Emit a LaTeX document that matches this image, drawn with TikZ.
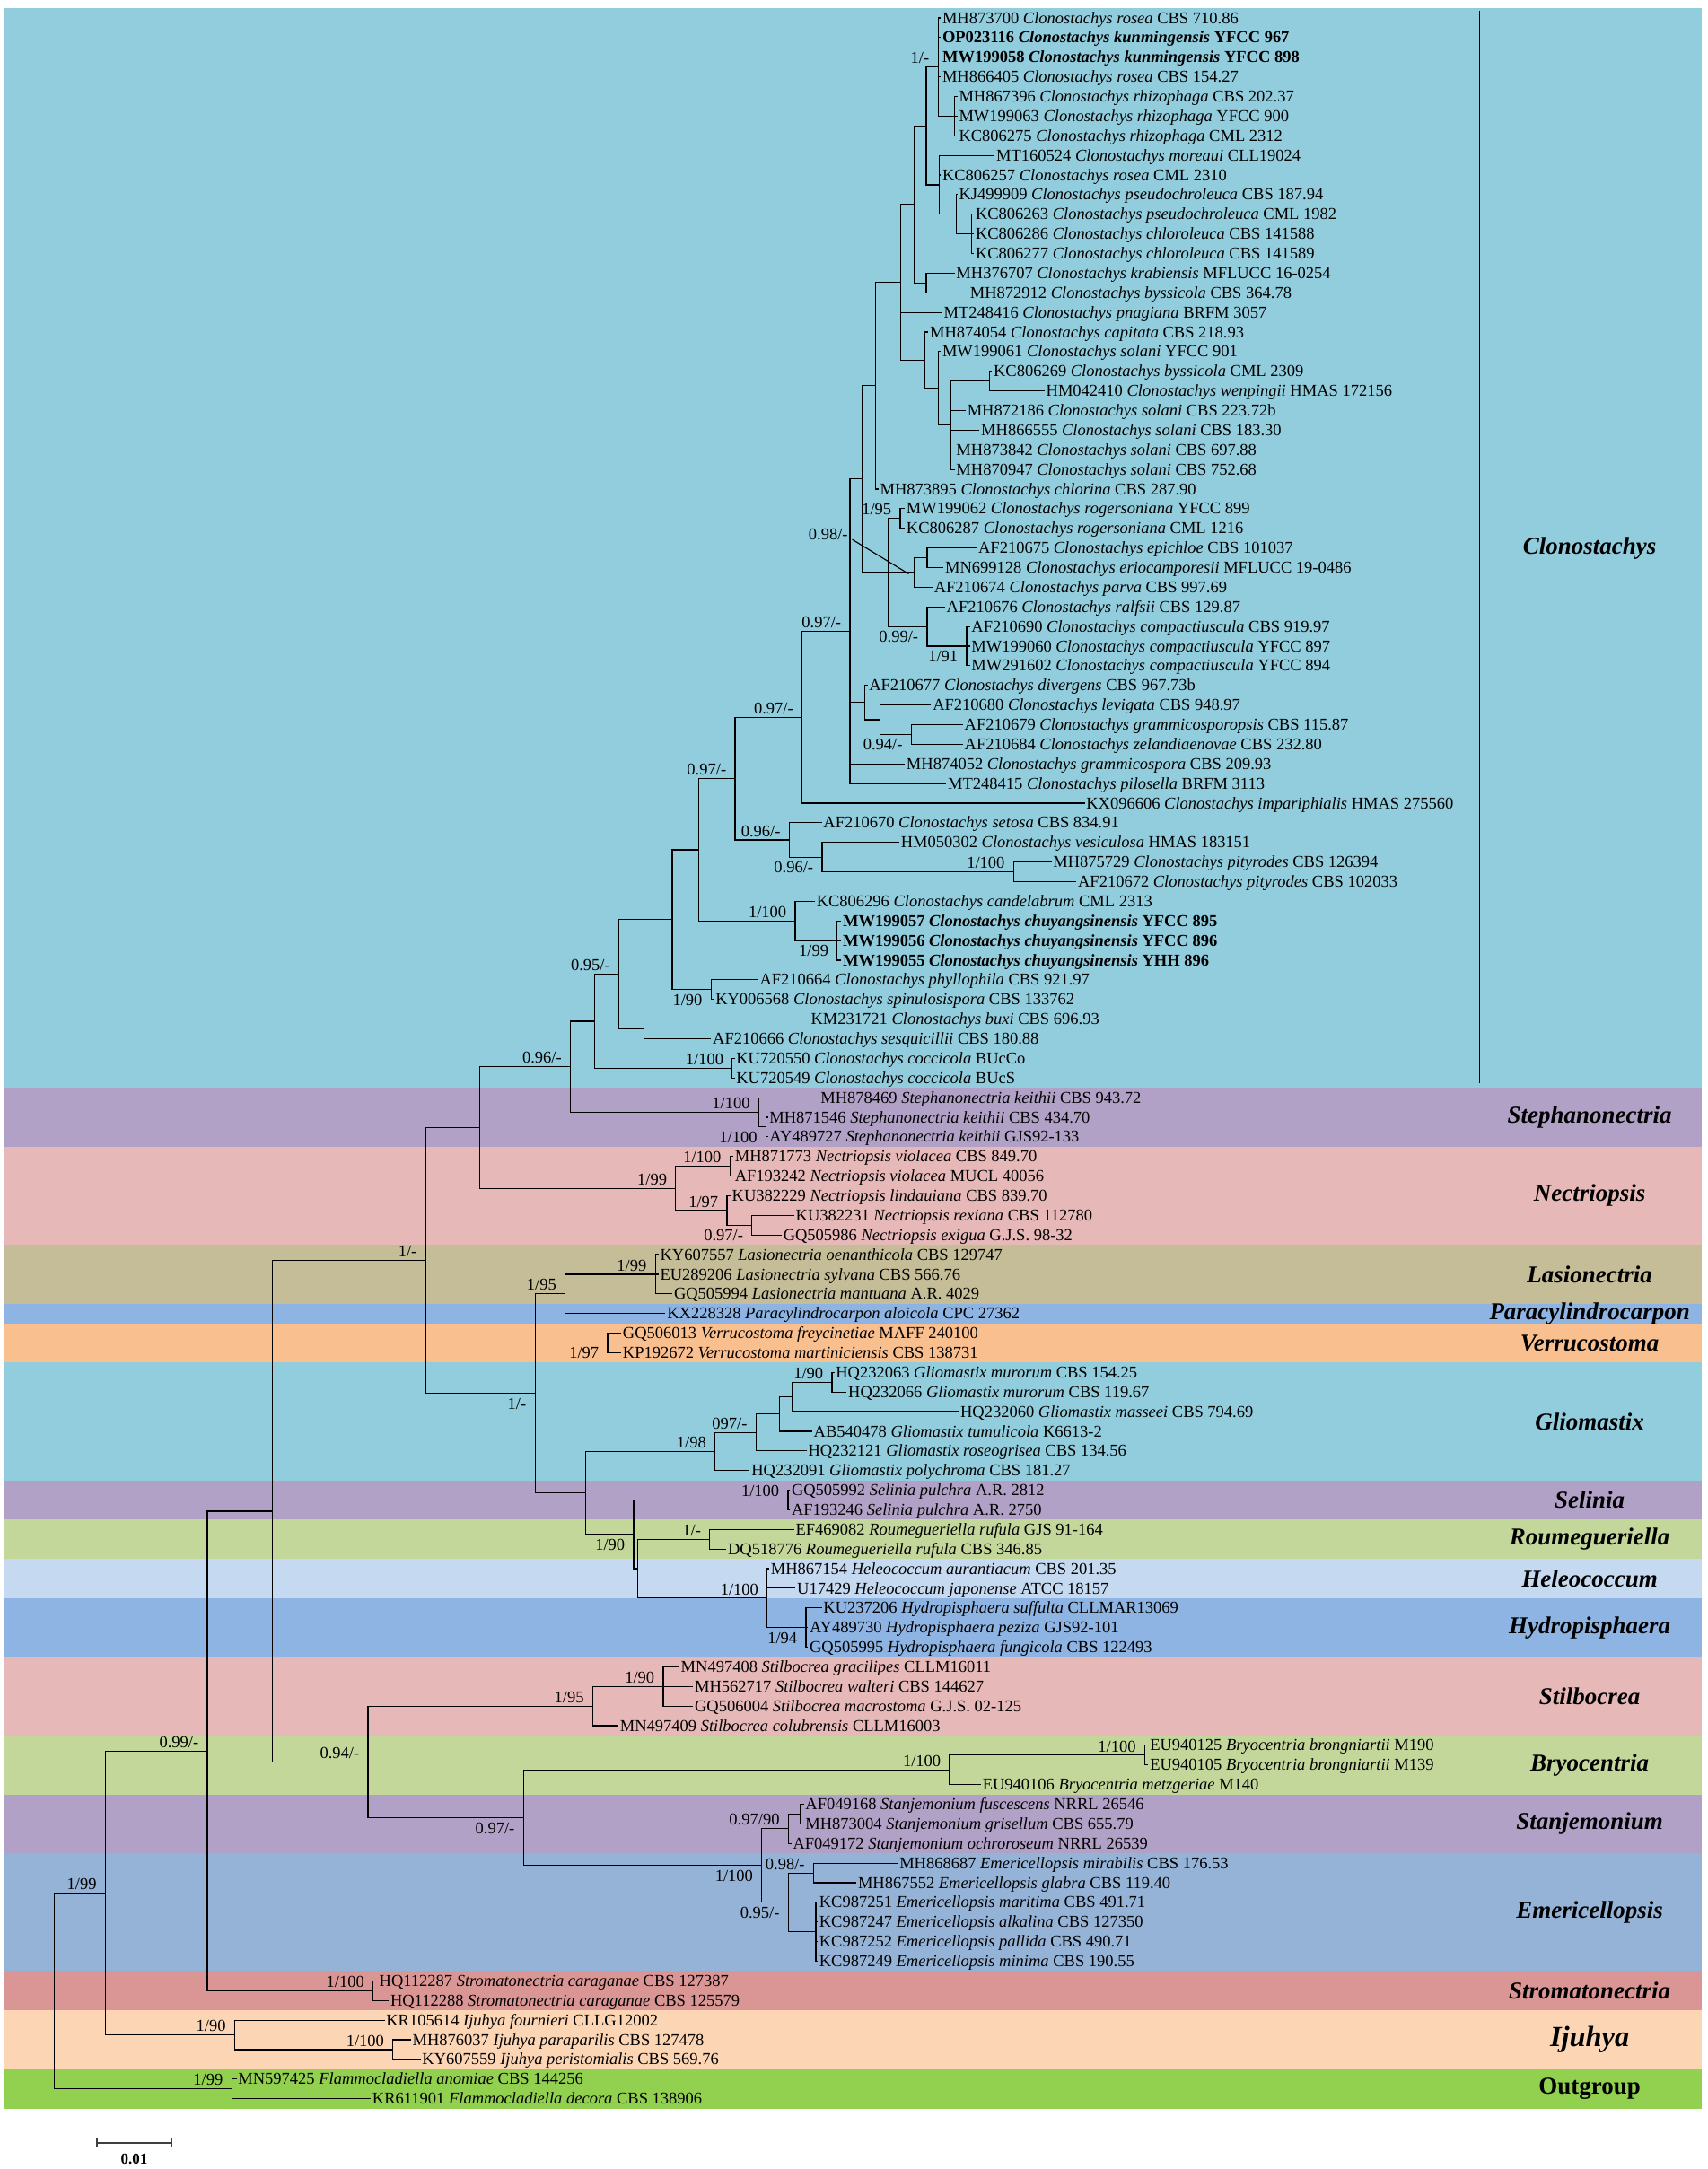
\documentclass[tikz,border=0pt]{standalone}
\usepackage{fontspec}
\setmainfont{Liberation Serif}
\usepackage{tikz}

\definecolor{clono}{RGB}{146,205,221}
\definecolor{steph}{RGB}{177,161,199}
\definecolor{nectr}{RGB}{230,184,183}
\definecolor{lasio}{RGB}{196,189,151}
\definecolor{paracyl}{RGB}{141,180,226}
\definecolor{verru}{RGB}{250,191,143}
\definecolor{roum}{RGB}{196,215,155}
\definecolor{heleo}{RGB}{197,217,241}
\definecolor{emeric}{RGB}{149,179,215}
\definecolor{stroma}{RGB}{218,150,148}
\definecolor{ijuhya}{RGB}{252,213,180}
\definecolor{outgr}{RGB}{146,208,80}

\newcommand{\taxfont}{\fontsize{12}{14}\selectfont}
\newcommand{\cladefont}{\fontsize{17.5}{20}\selectfont\bfseries\itshape}
\pgfmathdeclarefunction{rowy}{1}{\pgfmathparse{13+14.19*(#1-1)}}

\begin{document}
\begin{tikzpicture}[x=1pt,y=-1pt,
                    every edge/.style={draw,line width=0.75pt,to path={|- (\tikztotarget) \tikztonodes}}]
   \tikzstyle{leaf}=[anchor=west,inner sep=1pt,font=\taxfont,text height=10.4pt,text depth=2.5pt]
   \tikzstyle{sa}=[pos=1,anchor=south east,inner sep=1pt,xshift=-5pt,yshift=1pt,font=\taxfont]
   \tikzstyle{sb}=[pos=1,anchor=north east,inner sep=1pt,xshift=-5pt,yshift=-2pt,font=\taxfont]
   \tikzstyle{clade}=[font=\cladefont]

   \fill[white] (0,0) rectangle (1234,1568);
   \useasboundingbox (0,0) rectangle (1234,1568);

   % coloured bands with the genus names
   \foreach \a/\b/\c/\n in {1/55/clono/Clonostachys, 56/58/steph/Stephanonectria,
       59/63/nectr/Nectriopsis, 64/66/lasio/Lasionectria, 67/67/paracyl/Paracylindrocarpon,
       68/69/verru/Verrucostoma, 70/75/clono/Gliomastix, 76/77/steph/Selinia,
       78/79/roum/Roumegueriella, 80/81/heleo/Heleococcum, 82/84/paracyl/Hydropisphaera,
       85/88/nectr/Stilbocrea, 89/91/roum/Bryocentria, 92/94/steph/Stanjemonium,
       95/100/emeric/Emericellopsis, 101/102/stroma/Stromatonectria,
       103/105/ijuhya/{\fontsize{21}{24}\selectfont Ijuhya}, 106/107/outgr/{\upshape Outgroup}}
   {
     \fill[\c] (3.5,{rowy(\a-0.5)}) rectangle (1230,{rowy(\b+0.5)});
     \node[clade] (c\a) at (1149,{rowy((\a+\b)/2)}) {\n};
   }
   \coordinate (v0) at (1069.5,8);
   \coordinate (v1) at (1069.5,783);
   \draw[line width=0.8pt] (v0) -- (v1);

   % taxa
   \node[leaf] (t1) at (680,{rowy(1)}) {MH873700 \textit{Clonostachys rosea} CBS 710.86};
   \node[leaf] (t2) at (680,{rowy(2)}) {\bfseries OP023116 \textit{Clonostachys kunmingensis} YFCC 967};
   \node[leaf] (t3) at (680,{rowy(3)}) {\bfseries MW199058 \textit{Clonostachys kunmingensis} YFCC 898};
   \node[leaf] (t4) at (680,{rowy(4)}) {MH866405 \textit{Clonostachys rosea} CBS 154.27};
   \node[leaf] (t5) at (692,{rowy(5)}) {MH867396 \textit{Clonostachys rhizophaga} CBS 202.37};
   \node[leaf] (t6) at (692,{rowy(6)}) {MW199063 \textit{Clonostachys rhizophaga} YFCC 900};
   \node[leaf] (t7) at (692,{rowy(7)}) {KC806275 \textit{Clonostachys rhizophaga} CML 2312};
   \node[leaf] (t8) at (719,{rowy(8)}) {MT160524 \textit{Clonostachys moreaui} CLL19024};
   \node[leaf] (t9) at (680,{rowy(9)}) {KC806257 \textit{Clonostachys rosea} CML 2310};
   \node[leaf] (t10) at (692,{rowy(10)}) {KJ499909 \textit{Clonostachys pseudochroleuca} CBS 187.94};
   \node[leaf] (t11) at (704,{rowy(11)}) {KC806263 \textit{Clonostachys pseudochroleuca} CML 1982};
   \node[leaf] (t12) at (704,{rowy(12)}) {KC806286 \textit{Clonostachys chloroleuca} CBS 141588};
   \node[leaf] (t13) at (704,{rowy(13)}) {KC806277 \textit{Clonostachys chloroleuca} CBS 141589};
   \node[leaf] (t14) at (690,{rowy(14)}) {MH376707 \textit{Clonostachys krabiensis} MFLUCC 16-0254};
   \node[leaf] (t15) at (700,{rowy(15)}) {MH872912 \textit{Clonostachys byssicola} CBS 364.78};
   \node[leaf] (t16) at (681,{rowy(16)}) {MT248416 \textit{Clonostachys pnagiana} BRFM 3057};
   \node[leaf] (t17) at (671,{rowy(17)}) {MH874054 \textit{Clonostachys capitata} CBS 218.93};
   \node[leaf] (t18) at (680,{rowy(18)}) {MW199061 \textit{Clonostachys solani} YFCC 901};
   \node[leaf] (t19) at (717,{rowy(19)}) {KC806269 \textit{Clonostachys byssicola} CML 2309};
   \node[leaf] (t20) at (755,{rowy(20)}) {HM042410 \textit{Clonostachys wenpingii} HMAS 172156};
   \node[leaf] (t21) at (698,{rowy(21)}) {MH872186 \textit{Clonostachys solani} CBS 223.72b};
   \node[leaf] (t22) at (708,{rowy(22)}) {MH866555 \textit{Clonostachys solani} CBS 183.30};
   \node[leaf] (t23) at (690,{rowy(23)}) {MH873842 \textit{Clonostachys solani} CBS 697.88};
   \node[leaf] (t24) at (690,{rowy(24)}) {MH870947 \textit{Clonostachys solani} CBS 752.68};
   \node[leaf] (t25) at (635,{rowy(25)}) {MH873895 \textit{Clonostachys chlorina} CBS 287.90};
   \node[leaf] (t26) at (654,{rowy(26)}) {MW199062 \textit{Clonostachys rogersoniana} YFCC 899};
   \node[leaf] (t27) at (654,{rowy(27)}) {KC806287 \textit{Clonostachys rogersoniana} CML 1216};
   \node[leaf] (t28) at (706,{rowy(28)}) {AF210675 \textit{Clonostachys epichloe} CBS 101037};
   \node[leaf] (t29) at (682,{rowy(29)}) {MN699128 \textit{Clonostachys eriocamporesii} MFLUCC 19-0486};
   \node[leaf] (t30) at (674,{rowy(30)}) {AF210674 \textit{Clonostachys parva} CBS 997.69};
   \node[leaf] (t31) at (683,{rowy(31)}) {AF210676 \textit{Clonostachys ralfsii} CBS 129.87};
   \node[leaf] (t32) at (701,{rowy(32)}) {AF210690 \textit{Clonostachys compactiuscula} CBS 919.97};
   \node[leaf] (t33) at (701,{rowy(33)}) {MW199060 \textit{Clonostachys compactiuscula} YFCC 897};
   \node[leaf] (t34) at (701,{rowy(34)}) {MW291602 \textit{Clonostachys compactiuscula} YFCC 894};
   \node[leaf] (t35) at (627,{rowy(35)}) {AF210677 \textit{Clonostachys divergens} CBS 967.73b};
   \node[leaf] (t36) at (673,{rowy(36)}) {AF210680 \textit{Clonostachys levigata} CBS 948.97};
   \node[leaf] (t37) at (696,{rowy(37)}) {AF210679 \textit{Clonostachys grammicosporopsis} CBS 115.87};
   \node[leaf] (t38) at (696,{rowy(38)}) {AF210684 \textit{Clonostachys zelandiaenovae} CBS 232.80};
   \node[leaf] (t39) at (654,{rowy(39)}) {MH874052 \textit{Clonostachys grammicospora} CBS 209.93};
   \node[leaf] (t40) at (684,{rowy(40)}) {MT248415 \textit{Clonostachys pilosella} BRFM 3113};
   \node[leaf] (t41) at (784,{rowy(41)}) {KX096606 \textit{Clonostachys impariphialis} HMAS 275560};
   \node[leaf] (t42) at (594,{rowy(42)}) {AF210670 \textit{Clonostachys setosa} CBS 834.91};
   \node[leaf] (t43) at (650,{rowy(43)}) {HM050302 \textit{Clonostachys vesiculosa} HMAS 183151};
   \node[leaf] (t44) at (760,{rowy(44)}) {MH875729 \textit{Clonostachys pityrodes} CBS 126394};
   \node[leaf] (t45) at (778,{rowy(45)}) {AF210672 \textit{Clonostachys pityrodes} CBS 102033};
   \node[leaf] (t46) at (589,{rowy(46)}) {KC806296 \textit{Clonostachys candelabrum} CML 2313};
   \node[leaf] (t47) at (608,{rowy(47)}) {\bfseries MW199057 \textit{Clonostachys chuyangsinensis} YFCC 895};
   \node[leaf] (t48) at (608,{rowy(48)}) {\bfseries MW199056 \textit{Clonostachys chuyangsinensis} YFCC 896};
   \node[leaf] (t49) at (608,{rowy(49)}) {\bfseries MW199055 \textit{Clonostachys chuyangsinensis} YHH 896};
   \node[leaf] (t50) at (548,{rowy(50)}) {AF210664 \textit{Clonostachys phyllophila} CBS 921.97};
   \node[leaf] (t51) at (516,{rowy(51)}) {KY006568 \textit{Clonostachys spinulosispora} CBS 133762};
   \node[leaf] (t52) at (585,{rowy(52)}) {KM231721 \textit{Clonostachys buxi} CBS 696.93};
   \node[leaf] (t53) at (514,{rowy(53)}) {AF210666 \textit{Clonostachys sesquicillii} CBS 180.88};
   \node[leaf] (t54) at (531,{rowy(54)}) {KU720550 \textit{Clonostachys coccicola} BUcCo};
   \node[leaf] (t55) at (531,{rowy(55)}) {KU720549 \textit{Clonostachys coccicola} BUcS};
   \node[leaf] (t56) at (592,{rowy(56)}) {MH878469 \textit{Stephanonectria keithii} CBS 943.72};
   \node[leaf] (t57) at (555,{rowy(57)}) {MH871546 \textit{Stephanonectria keithii} CBS 434.70};
   \node[leaf] (t58) at (555,{rowy(58)}) {AY489727 \textit{Stephanonectria keithii} GJS92-133};
   \node[leaf] (t59) at (530,{rowy(59)}) {MH871773 \textit{Nectriopsis violacea} CBS 849.70};
   \node[leaf] (t60) at (530,{rowy(60)}) {AF193242 \textit{Nectriopsis violacea} MUCL 40056};
   \node[leaf] (t61) at (528,{rowy(61)}) {KU382229 \textit{Nectriopsis lindauiana} CBS 839.70};
   \node[leaf] (t62) at (574,{rowy(62)}) {KU382231 \textit{Nectriopsis rexiana} CBS 112780};
   \node[leaf] (t63) at (565,{rowy(63)}) {GQ505986 \textit{Nectriopsis exigua} G.J.S. 98-32};
   \node[leaf] (t64) at (476,{rowy(64)}) {KY607557 \textit{Lasionectria oenanthicola} CBS 129747};
   \node[leaf] (t65) at (476,{rowy(65)}) {EU289206 \textit{Lasionectria sylvana} CBS 566.76};
   \node[leaf] (t66) at (486,{rowy(66)}) {GQ505994 \textit{Lasionectria mantuana} A.R. 4029};
   \node[leaf] (t67) at (481,{rowy(67)}) {KX228328 \textit{Paracylindrocarpon aloicola} CPC 27362};
   \node[leaf] (t68) at (449,{rowy(68)}) {GQ506013 \textit{Verrucostoma freycinetiae} MAFF 240100};
   \node[leaf] (t69) at (449,{rowy(69)}) {KP192672 \textit{Verrucostoma martiniciensis} CBS 138731};
   \node[leaf] (t70) at (603,{rowy(70)}) {HQ232063 \textit{Gliomastix murorum} CBS 154.25};
   \node[leaf] (t71) at (612,{rowy(71)}) {HQ232066 \textit{Gliomastix murorum} CBS 119.67};
   \node[leaf] (t72) at (693,{rowy(72)}) {HQ232060 \textit{Gliomastix masseei} CBS 794.69};
   \node[leaf] (t73) at (587,{rowy(73)}) {AB540478 \textit{Gliomastix tumulicola} K6613-2};
   \node[leaf] (t74) at (583,{rowy(74)}) {HQ232121 \textit{Gliomastix roseogrisea} CBS 134.56};
   \node[leaf] (t75) at (542,{rowy(75)}) {HQ232091 \textit{Gliomastix polychroma} CBS 181.27};
   \node[leaf] (t76) at (571,{rowy(76)}) {GQ505992 \textit{Selinia pulchra} A.R. 2812};
   \node[leaf] (t77) at (571,{rowy(77)}) {AF193246 \textit{Selinia pulchra} A.R. 2750};
   \node[leaf] (t78) at (574,{rowy(78)}) {EF469082 \textit{Roumegueriella rufula} GJS 91-164};
   \node[leaf] (t79) at (525,{rowy(79)}) {DQ518776 \textit{Roumegueriella rufula} CBS 346.85};
   \node[leaf] (t80) at (556,{rowy(80)}) {MH867154 \textit{Heleococcum aurantiacum} CBS 201.35};
   \node[leaf] (t81) at (575,{rowy(81)}) {U17429 \textit{Heleococcum japonense} ATCC 18157};
   \node[leaf] (t82) at (594,{rowy(82)}) {KU237206 \textit{Hydropisphaera suffulta} CLLMAR13069};
   \node[leaf] (t83) at (584,{rowy(83)}) {AY489730 \textit{Hydropisphaera peziza} GJS92-101};
   \node[leaf] (t84) at (584,{rowy(84)}) {GQ505995 \textit{Hydropisphaera fungicola} CBS 122493};
   \node[leaf] (t85) at (491,{rowy(85)}) {MN497408 \textit{Stilbocrea gracilipes} CLLM16011};
   \node[leaf] (t86) at (501,{rowy(86)}) {MH562717 \textit{Stilbocrea walteri} CBS 144627};
   \node[leaf] (t87) at (501,{rowy(87)}) {GQ506004 \textit{Stilbocrea macrostoma} G.J.S. 02-125};
   \node[leaf] (t88) at (447,{rowy(88)}) {MN497409 \textit{Stilbocrea colubrensis} CLLM16003};
   \node[leaf] (t89) at (830,{rowy(89)}) {EU940125 \textit{Bryocentria brongniartii} M190};
   \node[leaf] (t90) at (830,{rowy(90)}) {EU940105 \textit{Bryocentria brongniartii} M139};
   \node[leaf] (t91) at (709,{rowy(91)}) {EU940106 \textit{Bryocentria metzgeriae} M140};
   \node[leaf] (t92) at (581,{rowy(92)}) {AF049168 \textit{Stanjemonium fuscescens} NRRL 26546};
   \node[leaf] (t93) at (581,{rowy(93)}) {MH873004 \textit{Stanjemonium grisellum} CBS 655.79};
   \node[leaf] (t94) at (572,{rowy(94)}) {AF049172 \textit{Stanjemonium ochroroseum} NRRL 26539};
   \node[leaf] (t95) at (649,{rowy(95)}) {MH868687 \textit{Emericellopsis mirabilis} CBS 176.53};
   \node[leaf] (t96) at (619,{rowy(96)}) {MH867552 \textit{Emericellopsis glabra} CBS 119.40};
   \node[leaf] (t97) at (591,{rowy(97)}) {KC987251 \textit{Emericellopsis maritima} CBS 491.71};
   \node[leaf] (t98) at (591,{rowy(98)}) {KC987247 \textit{Emericellopsis alkalina} CBS 127350};
   \node[leaf] (t99) at (591,{rowy(99)}) {KC987252 \textit{Emericellopsis pallida} CBS 490.71};
   \node[leaf] (t100) at (591,{rowy(100)}) {KC987249 \textit{Emericellopsis minima} CBS 190.55};
   \node[leaf] (t101) at (273,{rowy(101)}) {HQ112287 \textit{Stromatonectria caraganae} CBS 127387};
   \node[leaf] (t102) at (281,{rowy(102)}) {HQ112288 \textit{Stromatonectria caraganae} CBS 125579};
   \node[leaf] (t103) at (278,{rowy(103)}) {KR105614 \textit{Ijuhya fournieri} CLLG12002};
   \node[leaf] (t104) at (297,{rowy(104)}) {MH876037 \textit{Ijuhya paraparilis} CBS 127478};
   \node[leaf] (t105) at (304,{rowy(105)}) {KY607559 \textit{Ijuhya peristomialis} CBS 569.76};
   \node[leaf] (t106) at (171,{rowy(106)}) {MN597425 \textit{Flammocladiella anomiae} CBS 144256};
   \node[leaf] (t107) at (268,{rowy(107)}) {KR611901 \textit{Flammocladiella decora} CBS 138906};

   % internal nodes
   \coordinate (A2) at (690,{rowy(6)});
   \coordinate (A1) at (678,{rowy(3.5)});
   \coordinate (B2) at (702,{rowy(12)});
   \coordinate (B1) at (691,{rowy(11)});
   \coordinate (B3) at (679,{rowy(9.5)});
   \coordinate (C1) at (669.5,{rowy(6.5)});
   \coordinate (D1) at (669.5,{rowy(14.5)});
   \coordinate (C2) at (660.8,{rowy(10.5)});
   \coordinate (E4) at (715.3,{rowy(19.5)});
   \coordinate (E3) at (687.4,{rowy(21.75)});
   \coordinate (E2) at (678.2,{rowy(19.875)});
   \coordinate (E1) at (668.4,{rowy(18.44)});
   \coordinate (C3) at (651,{rowy(14.47)});
   \coordinate (F1) at (632.7,{rowy(19.73)});
   \coordinate (J2) at (650.7,{rowy(26.5)});
   \coordinate (G2) at (670.1,{rowy(28.5)});
   \coordinate (G1) at (660.8,{rowy(29.25)});
   \coordinate (K2) at (698.7,{rowy(33)});
   \coordinate (K1) at (670.1,{rowy(32)});
   \coordinate (J1) at (642,{rowy(29.25)});
   \coordinate (F2) at (623.4,{rowy(24.49)});
   \coordinate (L3) at (658.7,{rowy(37.5)});
   \coordinate (L2) at (636,{rowy(36.75)});
   \coordinate (L1) at (625,{rowy(35.875)});
   \coordinate (F3) at (614.3,{rowy(32.245)});
   \coordinate (H1) at (579.7,{rowy(36.62)});
   \coordinate (M3) at (732.6,{rowy(44.5)});
   \coordinate (M2) at (594.2,{rowy(43.75)});
   \coordinate (M1) at (570.4,{rowy(42.875)});
   \coordinate (N1) at (531.3,{rowy(39.75)});
   \coordinate (R2) at (605.2,{rowy(48)});
   \coordinate (R1) at (574.8,{rowy(47)});
   \coordinate (P1) at (505.3,{rowy(43.375)});
   \coordinate (S1) at (514,{rowy(50.5)});
   \coordinate (Q1) at (485.9,{rowy(46.94)});
   \coordinate (U1) at (465.5,{rowy(52.5)});
   \coordinate (T1) at (447.3,{rowy(49.72)});
   \coordinate (W1) at (529.3,{rowy(54.5)});
   \coordinate (V1) at (430,{rowy(52.11)});
   \coordinate (Y2) at (553.6,{rowy(57.5)});
   \coordinate (Y1) at (548.4,{rowy(56.75)});
   \coordinate (X1) at (412.3,{rowy(54.43)});
   \coordinate (AO1) at (527.6,{rowy(59.5)});
   \coordinate (AQ1) at (543.5,{rowy(62.5)});
   \coordinate (AP1) at (525.5,{rowy(61.75)});
   \coordinate (Z1) at (488.4,{rowy(60.625)});
   \coordinate (BB1) at (346.5,{rowy(57.53)});
   \coordinate (II1) at (473.7,{rowy(65)});
   \coordinate (GG1) at (408.5,{rowy(66)});
   \coordinate (JJ1) at (439.2,{rowy(68.5)});
   \coordinate (PP1) at (601.4,{rowy(70.5)});
   \coordinate (OO1) at (572.3,{rowy(71.25)});
   \coordinate (NN1) at (563.2,{rowy(72.125)});
   \coordinate (MM1) at (546.4,{rowy(73.06)});
   \coordinate (KK1) at (516.8,{rowy(74.03)});
   \coordinate (SS1) at (569.6,{rowy(76.5)});
   \coordinate (TT1) at (513,{rowy(78.5)});
   \coordinate (UU1) at (582.6,{rowy(83)});
   \coordinate (RR1) at (554.5,{rowy(81.5)});
   \coordinate (QQ1) at (461,{rowy(80)});
   \coordinate (LL1) at (458,{rowy(78.25)});
   \coordinate (HH1) at (423.5,{rowy(76.14)});
   \coordinate (EE1) at (386.7,{rowy(71.07)});
   \coordinate (DD1) at (307.6,{rowy(64.3)});
   \coordinate (WW1) at (479.4,{rowy(86)});
   \coordinate (VV1) at (428.4,{rowy(87)});
   \coordinate (YY1) at (827.4,{rowy(89.5)});
   \coordinate (XX1) at (686.4,{rowy(90.25)});
   \coordinate (AD1) at (578.7,{rowy(92.5)});
   \coordinate (AB1) at (569.8,{rowy(93.25)});
   \coordinate (AE1) at (588,{rowy(95.5)});
   \coordinate (AF1) at (589.7,{rowy(98.5)});
   \coordinate (AC1) at (569.8,{rowy(97)});
   \coordinate (ZZ1) at (550.6,{rowy(95.125)});
   \coordinate (AJ1) at (378.3,{rowy(92.69)});
   \coordinate (AI1) at (266,{rowy(89.84)});
   \coordinate (FF1) at (197,{rowy(77.07)});
   \coordinate (AK1) at (269.6,{rowy(101.5)});
   \coordinate (AG1) at (149.9,{rowy(89.29)});
   \coordinate (AM1) at (284,{rowy(104.5)});
   \coordinate (AL1) at (169.6,{rowy(103.75)});
   \coordinate (AH1) at (76.2,{rowy(96.52)});
   \coordinate (AN1) at (167.5,{rowy(106.5)});
   \coordinate (root) at (39.1,{rowy(101.5)});

   % branches
   \path (root) edge node[sa] {1/99} (AH1)
                edge node[sa] {1/99} (AN1)
         (AN1)  edge (t106) edge (t107)
         (AH1)  edge node[sa] {0.99/-} (AG1)
                edge node[sa] {1/90} (AL1)
         (AL1)  edge (t103) edge node[sa] {1/100} (AM1)
         (AM1)  edge (t104) edge (t105)
         (AG1)  edge (FF1) edge node[sa] {1/100} (AK1)
         (AK1)  edge (t101) edge (t102)
         (FF1)  edge node[sa] {1/-} (DD1)
                edge node[sa] {0.94/-} (AI1)
         (AI1)  edge node[sa] {1/95} (VV1)
                edge node[sb] {0.97/-} (AJ1)
         (VV1)  edge node[sa] {1/90} (WW1) edge (t88)
         (WW1)  edge (t85) edge (t86) edge (t87)
         (AJ1)  edge node[sa] {1/100} (XX1)
                edge node[sb] {1/100} (ZZ1)
         (XX1)  edge node[sa] {1/100} (YY1) edge (t91)
         (YY1)  edge (t89) edge (t90)
         (ZZ1)  edge node[sa] {0.97/90} (AB1)
                edge node[sb] {0.95/-} (AC1)
         (AB1)  edge (AD1) edge (t94)
         (AD1)  edge (t92) edge (t93)
         (AC1)  edge node[sa] {0.98/-} (AE1) edge (AF1)
         (AE1)  edge (t95) edge (t96)
         (AF1)  edge (t97) edge (t98) edge (t99) edge (t100);

   \path (DD1)  edge (BB1) edge node[sb] {1/-} (EE1)
         (EE1)  edge node[sa] {1/95} (GG1)
                edge node[sb] {1/97} (JJ1)
                edge (HH1)
         (GG1)  edge node[sa] {1/99} (II1) edge (t67)
         (II1)  edge (t64) edge (t65) edge (t66)
         (JJ1)  edge (t68) edge (t69)
         (HH1)  edge node[sa] {1/98} (KK1)
                edge node[sb] {1/90} (LL1)
         (KK1)  edge node[sa] {097/-} (MM1) edge (t75)
         (MM1)  edge (NN1) edge (t74)
         (NN1)  edge (OO1) edge (t73)
         (OO1)  edge node[sa] {1/90} (PP1) edge (t72)
         (PP1)  edge (t70) edge (t71)
         (LL1)  edge node[sa] {1/100} (SS1) edge (QQ1)
         (SS1)  edge (t76) edge (t77)
         (QQ1)  edge node[sa] {1/-} (TT1)
                edge node[sa] {1/100} (RR1)
         (TT1)  edge (t78) edge (t79)
         (RR1)  edge (t80) edge (t81) edge node[sb] {1/94} (UU1)
         (UU1)  edge (t82) edge (t83) edge (t84);

   \path (BB1)  edge node[sa] {0.96/-} (X1)
                edge node[sa] {1/99} (Z1)
         (Z1)   edge node[sa] {1/100} (AO1)
                edge node[sa] {1/97} (AP1)
         (AO1)  edge (t59) edge (t60)
         (AP1)  edge (t61) edge node[sb] {0.97/-} (AQ1)
         (AQ1)  edge (t62) edge (t63)
         (X1)   edge (V1) edge node[sa] {1/100} (Y1)
         (Y1)   edge (t56) edge node[sb] {1/100} (Y2)
         (Y2)   edge (t57) edge (t58)
         (V1)   edge node[sa] {0.95/-} (T1)
                edge node[sa] {1/100} (W1)
         (W1)   edge (t54) edge (t55)
         (T1)   edge (Q1) edge (U1)
         (U1)   edge (t52) edge (t53)
         (Q1)   edge (P1) edge node[sb] {1/90} (S1)
         (S1)   edge (t50) edge (t51)
         (P1)   edge node[sa] {0.97/-} (N1)
                edge node[sa] {1/100} (R1)
         (R1)   edge (t46) edge node[sb] {1/99} (R2)
         (R2)   edge (t47) edge (t48) edge (t49)
         (N1)   edge node[sa] {0.97/-} (H1)
                edge node[sa] {0.96/-} (M1)
         (M1)   edge (t42) edge node[sb] {0.96/-} (M2)
         (M2)   edge (t43) edge node[sa] {1/100} (M3)
         (M3)   edge (t44) edge (t45)
         (H1)   edge node[sa] {0.97/-} (F3) edge (t41);

   \path (F3)   edge (F2) edge (L1) edge (t39) edge (t40)
         (L1)   edge (t35) edge (L2)
         (L2)   edge (t36) edge node[sb] {0.94/-} (L3)
         (L3)   edge (t37) edge (t38)
         (F2)   edge (F1) edge (J1)
         (J1)   edge node[sa] {1/95} (J2) edge (G1)
                edge node[sb] {0.99/-} (K1)
         (K1)   edge (t31) edge node[sb] {1/91} (K2)
         (K2)   edge (t32) edge (t33) edge (t34)
         (G1)   edge (G2) edge (t30)
         (G2)   edge (t28) edge (t29)
         (J2)   edge (t26) edge (t27)
         (F1)   edge (C3) edge (t25)
         (C3)   edge (C2) edge (t16) edge (E1)
         (E1)   edge (t17) edge (E2)
         (E2)   edge (t18) edge (E3)
         (E3)   edge (E4) edge (t21) edge (t22) edge (t23) edge (t24)
         (E4)   edge (t19) edge (t20)
         (C2)   edge (C1) edge (D1)
         (D1)   edge (t14) edge (t15)
         (C1)   edge node[sa] {1/-} (A1) edge (B3)
         (B3)   edge (t8) edge (t9) edge (B1)
         (B1)   edge (t10) edge (B2)
         (B2)   edge (t11) edge (t12) edge (t13)
         (A1)   edge (t1) edge (t2) edge (t3) edge (t4) edge (A2)
         (A2)   edge (t5) edge (t6) edge (t7);

   \node[font=\taxfont,anchor=east,inner sep=1pt] (lG1) at (614,386) {0.98/-};
   \draw[line width=0.75pt] ([shift={(2,4)}]lG1.east) -- ([shift={(-4,1)}]G1);

   % scale bar
   \coordinate (s0) at (70,1549);
   \coordinate (s1) at (124,1549);
   \draw[line width=1.3pt,black!75] (s0) -- (s1)
        (s0) ++(0,-3.5) -- ++(0,7) (s1) ++(0,-3.5) -- ++(0,7);
   \node[font=\fontsize{11}{13}\selectfont\bfseries] (sc) at (97,1561) {0.01};
\end{tikzpicture}
\end{document}
